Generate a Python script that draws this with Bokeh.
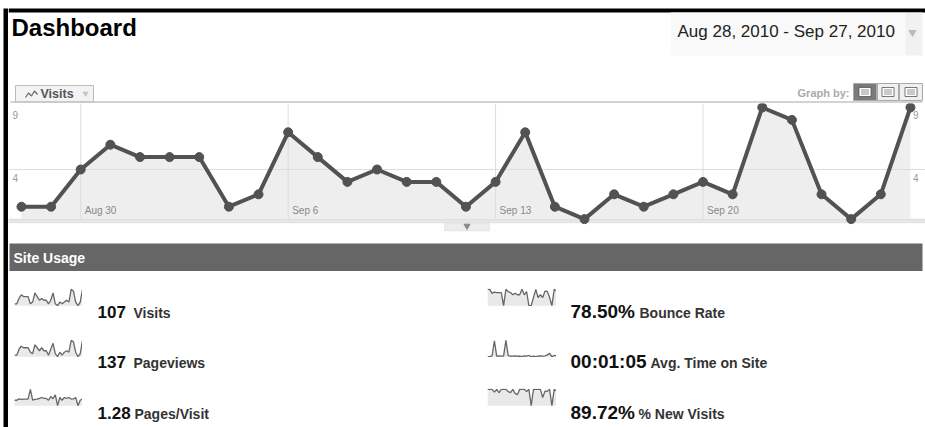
import pandas as pd
from bokeh.plotting import figure
from bokeh.models import Range1d, BoxAnnotation, Spacer
from bokeh.layouts import column, row
from bokeh.core.properties import value
from bokeh.embed import file_html
from bokeh.resources import INLINE

# ---------------- data ----------------
dates = pd.date_range("2010-08-28", "2010-09-27", freq="D")
visits = [1, 1, 4, 6, 5, 5, 5, 1, 2, 7, 5, 3, 4, 3, 3, 1, 3, 7, 1, 0, 2, 1, 2, 3, 2, 9, 8, 2, 0, 2, 9]
pageviews = [1, 1, 5, 7, 6, 6, 6, 3, 2, 8, 6, 4, 6, 4, 4, 1, 5, 9, 2, 0, 3, 1, 3, 4, 3, 11, 10, 3, 0, 2, 11]
pages_per_visit = [1.0, 1.0, 1.25, 1.17, 1.2, 1.2, 1.2, 3.0, 1.0, 1.14, 1.2, 1.33, 1.5, 1.33, 1.33, 1.0,
                   1.67, 1.29, 2.0, 0.0, 1.5, 1.0, 1.5, 1.33, 1.5, 1.22, 1.25, 1.5, 0.0, 1.0, 1.22]
bounce_rate = [100, 100, 75, 83.33, 80, 80, 80, 0, 100, 85.71, 80, 66.67, 75, 66.67, 66.67, 100,
               66.67, 85.71, 0, 0, 50, 100, 50, 66.67, 50, 88.89, 87.5, 50, 0, 100, 88.89]
avg_time_s = [0, 0, 30, 520, 20, 25, 20, 20, 540, 35, 15, 20, 25, 15, 20, 0,
              30, 20, 40, 0, 15, 0, 20, 25, 15, 30, 60, 110, 0, 40, 20]
new_visits_pct = [100, 100, 100, 83.33, 100, 80, 100, 100, 100, 85.71, 80, 100, 75, 66.67, 100, 100,
                  100, 85.71, 100, 0, 100, 100, 100, 100, 50, 88.89, 87.5, 100, 0, 100, 88.89]

x_tick_dates = pd.to_datetime(["2010-08-30", "2010-09-06", "2010-09-13", "2010-09-20"])
x_tick_labels = ["Aug 30", "Sep 6", "Sep 13", "Sep 20"]
y_ticks = [4, 9]
y_tick_labels = ["4", "9"]

metric_values = ["107", "137", "1.28", "78.50%", "00:01:05", "89.72%"]
metric_names = ["Visits", "Pageviews", "Pages/Visit", "Bounce Rate", "Avg. Time on Site", "% New Visits"]
metric_series = [visits, pageviews, pages_per_visit, bounce_rate, avg_time_s, new_visits_pct]

title_text = "Dashboard"
date_range_text = "Aug 28, 2010 - Sep 27, 2010"

# ---------------- helpers ----------------
FONT = value("Liberation Sans")


def canvas(x0, x1, y0, y1, bg="white"):
    p = figure(width=x1 - x0, height=y1 - y0, x_range=Range1d(x0, x1), y_range=Range1d(y1, y0),
               output_backend="svg", toolbar_location=None, x_axis_location=None, y_axis_location=None,
               min_border_left=0, min_border_right=0, min_border_top=0, min_border_bottom=0,
               outline_line_color=None, background_fill_color=bg, border_fill_color=bg)
    p.grid.visible = False
    return p


def txt(p, x, y, s, size, color="#000000", bold=False, align="left"):
    # y is the desired baseline; text is placed by its middle
    p.text(x=[x], y=[y - 0.36 * size], text=[s], text_font=FONT, text_font_size=f"{size}px",
           text_color=color, text_font_style="bold" if bold else "normal", text_align=align,
           text_baseline="middle")


W = 925
H = 427

# ---------------- left black border ----------------
lb = canvas(0, 8, 0, H)
lb.quad(left=[3], right=[8], top=[8], bottom=[H], fill_color="black", line_color=None)

# ---------------- header ----------------
hd = canvas(8, W, 0, 103)
hd.quad(left=[8], right=[W], top=[8], bottom=[12], fill_color="black", line_color=None)
txt(hd, 11, 36, title_text, 24, "#000000", True)
hd.quad(left=[670], right=[905], top=[12], bottom=[55], fill_color="#f9f9f9", line_color=None)
hd.quad(left=[905], right=[922], top=[12], bottom=[55], fill_color="#f1f1f1", line_color=None)
txt(hd, 677, 37, date_range_text, 17, "#222222")
hd.scatter([912], [32], marker="inverted_triangle", size=7, color="#bbbbbb")

hd.quad(left=[15], right=[93], top=[85], bottom=[101.5], fill_color="#f3f3f3", line_color="#bbbbbb")
hd.segment(x0=[10], y0=[101.5], x1=[922], y1=[101.5], line_color="#c4c4c4", line_width=1.5)
hd.line([25, 28, 31, 34, 37], [97, 92.5, 95.5, 90.5, 94], line_color="#666666", line_width=1.2)
txt(hd, 40, 98, "Visits", 12.5, "#555555", True)
hd.scatter([85], [93], marker="inverted_triangle", size=5, color="#c8c8c8")

txt(hd, 849, 96, "Graph by:", 11, "#aaaaaa", True, align="right")
btn_l = [853, 877, 899]
btn_r = [876, 898, 922]
btn_fill = ["#7a7a7a", "#f0f0f0", "#f0f0f0"]
hd.quad(left=btn_l, right=btn_r, top=[83] * 3, bottom=[100] * 3, fill_color=btn_fill, line_color="#aaaaaa")
cxs = [(l + r) / 2 for l, r in zip(btn_l, btn_r)]
hd.quad(left=[c - 6 for c in cxs], right=[c + 6 for c in cxs], top=[87] * 3, bottom=[96] * 3,
        fill_color="white", line_color="#555555", line_width=0.8)
for yy in (89.5, 91.5, 93.5):
    hd.segment(x0=[c - 4 for c in cxs], y0=[yy] * 3, x1=[c + 4 for c in cxs], y1=[yy] * 3,
               line_color="#777777", line_width=0.8)

# ---------------- main chart ----------------
x_start = dates[0] - pd.Timedelta(hours=10.5)
x_end = dates[-1] + pd.Timedelta(hours=12.2)
y_top = 9.32
mp = figure(width=W - 8, height=132, x_axis_type="datetime", x_range=Range1d(x_start, x_end),
            y_range=Range1d(-1.32, y_top), output_backend="svg", toolbar_location=None,
            x_axis_location=None, y_axis_location=None,
            min_border_left=0, min_border_right=0, min_border_top=0, min_border_bottom=0,
            outline_line_color=None, background_fill_color="white", border_fill_color="white")
mp.grid.visible = False


def ms(ts):
    return (ts - pd.Timestamp("1970-01-01")) / pd.Timedelta(milliseconds=1)


mp.add_layout(BoxAnnotation(top=0, bottom=-0.3, fill_color="#e6e6e6", fill_alpha=1,
                            line_color="#c8c8c8", line_width=1, level="underlay"))
mid = x_start + (x_end - x_start) / 2
half = pd.Timedelta(hours=18.2)
mp.add_layout(BoxAnnotation(left=ms(mid - half), right=ms(mid + half), top=-0.3, bottom=-0.95,
                            fill_color="#ececec", fill_alpha=1, line_color="#cccccc", line_width=1,
                            level="underlay"))
mp.scatter([mid], [-0.55], marker="inverted_triangle", size=6, color="#888888")

mp.varea(x=dates, y1=0, y2=visits, fill_color="#eeeeee")
mp.segment(x0=x_tick_dates, y0=[0] * len(x_tick_dates), x1=x_tick_dates, y1=[y_top] * len(x_tick_dates),
           line_color="#dddddd", line_width=1)
grid_y = [t for t in y_ticks if t < max(visits)]
mp.segment(x0=[x_start] * len(grid_y), y0=grid_y, x1=[x_end] * len(grid_y), y1=grid_y,
           line_color="#dddddd", line_width=1)
mp.text(x=x_tick_dates, y=[0] * len(x_tick_dates), text=x_tick_labels, x_offset=4, y_offset=-9,
        text_font=FONT, text_font_size="10px", text_color="#888888", text_baseline="middle")
mp.text(x=[x_start] * len(y_ticks), y=y_ticks, text=y_tick_labels, x_offset=4, y_offset=8,
        text_font=FONT, text_font_size="10px", text_color="#999999", text_baseline="middle")
mp.text(x=[x_end] * len(y_ticks), y=y_ticks, text=y_tick_labels, x_offset=-7, y_offset=8,
        text_font=FONT, text_font_size="10px", text_color="#999999", text_baseline="middle",
        text_align="right")
mp.line(dates, visits, line_color="#525252", line_width=4, line_join="round")
mp.scatter(dates, visits, size=9, fill_color="#525252", line_color="#525252")

# ---------------- site usage bar ----------------
us = canvas(8, W, 235, 271)
us.quad(left=[9], right=[922], top=[243], bottom=[271], fill_color="#666666", line_color=None)
txt(us, 13, 263, "Site Usage", 14, "#ffffff", True)

# ---------------- metrics ----------------
rows_top = [271, 322, 372]
rows_h = [51, 50, 55]
spark_top = [288, 339, 388]
spark_h = 18
baselines = [318, 368, 419]
left_name_x = [133, 133, 134]
right_name_x = [639, 650, 638]


def spark(vals, width):
    vmax = max(vals)
    p = figure(width=width, height=spark_h, x_axis_type="datetime", x_range=Range1d(dates[0], dates[-1]),
               y_range=Range1d(-vmax * 0.05, vmax * 1.05), output_backend="svg", toolbar_location=None,
               x_axis_location=None, y_axis_location=None,
               min_border_left=0, min_border_right=0, min_border_top=0, min_border_bottom=0,
               outline_line_color=None, background_fill_color="white", border_fill_color="white")
    p.grid.visible = False
    p.varea(x=dates, y1=0, y2=vals, fill_color="#e9e9e9")
    p.line(dates, vals, line_color="#666666", line_width=1.3)
    return p


def spark_cell(vals, width, tb, h):
    return column(Spacer(width=width, height=tb), spark(vals, width),
                  Spacer(width=width, height=h - tb - spark_h))


metric_rows = []
for i in range(3):
    y0 = rows_top[i]
    h = rows_h[i]
    tb = spark_top[i] - y0
    tl = canvas(82, 487, y0, y0 + h)
    txt(tl, 97, baselines[i], metric_values[i], 17, "#111111", True)
    txt(tl, left_name_x[i], baselines[i], metric_names[i], 14, "#333333", True)
    tr = canvas(556, W, y0, y0 + h)
    txt(tr, 570, baselines[i], metric_values[i + 3], 19, "#111111", True)
    txt(tr, right_name_x[i], baselines[i], metric_names[i + 3], 14, "#333333", True)
    metric_rows.append(row(Spacer(width=6, height=h), spark_cell(metric_series[i], 68, tb, h), tl,
                           spark_cell(metric_series[i + 3], 69, tb, h), tr))

content = column(hd, mp, us, *metric_rows)
layout = row(lb, content)

open("out.html", "w").write(file_html(layout, INLINE))
